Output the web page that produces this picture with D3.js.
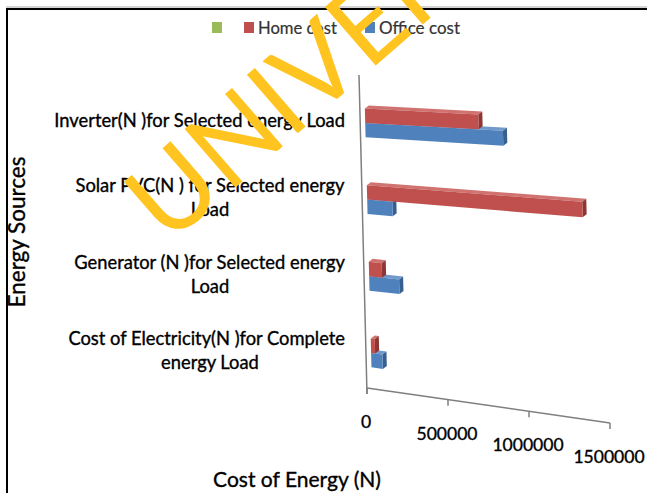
<!DOCTYPE html>
<html>
<head>
<meta charset="utf-8">
<script src="https://cdn.jsdelivr.net/npm/d3@7"></script>
<style>
  body { margin: 0; background: #fff; }
  svg { display: block; }
  text { font-family: Lato, "Open Sans", sans-serif; fill: #000; stroke: #000; stroke-width: 0.35px; }
</style>
</head>
<body>
<svg></svg>
<script>
const width = 647, height = 493;

// categories, top to bottom as drawn
const categories = ["Inverter", "Solar PVC", "Generator", "Electricity"];
const labelLines = [
    ["Inverter(N )for Selected energy Load"],
    ["Solar PVC(N ) for Selected energy", "Load"],
    ["Generator  (N )for Selected energy", "Load"],
    ["Cost of Electricity(N )for Complete", "energy Load"]
];
const seriesNames = ["", "Home cost", "Office cost"];
const seriesColors = ["#9BBB59", "#C0504D", "#4F81BD"];
const otherCost = [0, 0, 0, 0];
const homeCost = [700000, 1330000, 80000, 25000];
const officeCost = [850000, 155000, 185000, 70000];
const xTicks = [0, 500000, 1000000, 1500000];

const svg = d3.select("svg")
    .attr("width", width)
    .attr("height", height);

// shrink/grow a text so it spans the given width
function fit(sel, target) {
    const w = sel.node().getComputedTextLength();
    const fs = +sel.attr("font-size");
    sel.attr("font-size", fs * target / w);
    return sel;
}

// frame (top and left edges of the clipped figure)
svg.append("line").attr("x1", 6).attr("x2", width).attr("y1", 7).attr("y2", 7)
    .attr("stroke", "#aaa").attr("stroke-width", 1);
svg.append("line").attr("x1", 6).attr("x2", width).attr("y1", 9).attr("y2", 9)
    .attr("stroke", "#000").attr("stroke-width", 2);
svg.append("line").attr("x1", 7).attr("x2", 7).attr("y1", 8).attr("y2", height)
    .attr("stroke", "#000").attr("stroke-width", 2);

// scales: u along the value axis, v up the category axis
const xScale = d3.scaleLinear().domain([0, 1500000]).range([0, 1]);
const yScale = d3.scalePoint().domain(categories.slice().reverse()).range([0.112, 0.847]);

// corners of the tilted 3D plot plane
const BL = [367, 388], BR = [610, 423], TL = [359, 75], TR = [602, 85];
function proj(u, v) {
    const bx = BL[0] + (BR[0] - BL[0]) * u, by = BL[1] + (BR[1] - BL[1]) * u;
    const tx = TL[0] + (TR[0] - TL[0]) * u, ty = TL[1] + (TR[1] - TL[1]) * u;
    return [bx + (tx - bx) * v, by + (ty - by) * v];
}

// axes
const axisColor = "#7f7f7f";
svg.append("line")
    .attr("x1", TL[0]).attr("y1", TL[1]).attr("x2", BL[0]).attr("y2", BL[1] + 6)
    .attr("stroke", axisColor).attr("stroke-width", 1.5);
svg.append("line")
    .attr("x1", BL[0]).attr("y1", BL[1]).attr("x2", BR[0]).attr("y2", BR[1])
    .attr("stroke", axisColor).attr("stroke-width", 1.5);

const ticks = svg.append("g");
xTicks.forEach(t => {
    const [x, y] = proj(xScale(t), 0);
    ticks.append("line").attr("x1", x).attr("x2", x).attr("y1", y).attr("y2", y + 6)
        .attr("stroke", axisColor).attr("stroke-width", 1.5);
    const lbl = ticks.append("text").attr("x", x - 1).attr("y", y + 40)
        .attr("text-anchor", "middle").attr("font-size", 15)
        .text(d3.format("d")(t));
    if (t === 500000) fit(lbl, 61);
});
ticks.selectAll("text").attr("font-size", ticks.select("text:nth-of-type(2)").attr("font-size"));

// bars
const h = 0.046;
const off = [5, 0], depth = [4, -3];
const shift = (p, d) => [p[0] + d[0], p[1] + d[1]];
const pts = arr => arr.map(p => p.join(",")).join(" ");
const faceColors = {
    "#C0504D": { front: "#C0504D", top: "#D0726F", end: "#8F3532" },
    "#4F81BD": { front: "#4F81BD", top: "#7099CC", end: "#37608F" }
};

const barsG = svg.append("g");
categories.forEach((c, i) => {
    const vc = yScale(c);
    const series = [
        { value: officeCost[i], color: seriesColors[2], vb: vc - h, vt: vc },
        { value: homeCost[i], color: seriesColors[1], vb: vc, vt: vc + h }
    ];
    series.forEach(s => {
        if (!s.value) return;
        const u = xScale(s.value);
        const p00 = shift(proj(0, s.vb), off), p10 = shift(proj(u, s.vb), off);
        const p11 = shift(proj(u, s.vt), off), p01 = shift(proj(0, s.vt), off);
        const fc = faceColors[s.color];
        barsG.append("polygon").attr("points", pts([p01, p11, shift(p11, depth), shift(p01, depth)]))
            .attr("fill", fc.top);
        barsG.append("polygon").attr("points", pts([p10, p11, shift(p11, depth), shift(p10, depth)]))
            .attr("fill", fc.end);
        barsG.append("polygon").attr("points", pts([p00, p10, p11, p01]))
            .attr("fill", fc.front);
    });
});

// category labels: one size for all, fitted on the widest line
const labels = svg.append("g");
const probe = labels.append("text").attr("font-size", 16).text(labelLines[0][0]);
fit(probe, 291);
const labelSize = +probe.attr("font-size");
probe.remove();
categories.forEach((c, i) => {
    const [, y] = proj(0, yScale(c));
    const lines = labelLines[i];
    const lh = 24;
    const y0 = y - 2 - (lines.length - 1) * lh / 2;
    lines.forEach((ln, j) => {
        const t = labels.append("text").attr("x", 210).attr("y", y0 + j * lh)
            .attr("dy", "0.35em").attr("text-anchor", "middle")
            .attr("font-size", labelSize).text(ln);
        const w = t.node().getComputedTextLength();
        if (210 + w / 2 > 345) t.attr("x", 345 - w / 2);
    });
});

// axis titles
fit(svg.append("text").attr("x", 297).attr("y", 487).attr("text-anchor", "middle")
    .attr("font-size", 19).text("Cost of Energy (N)"), 168);
fit(svg.append("text").attr("transform", "translate(25,232) rotate(-90)")
    .attr("text-anchor", "middle").attr("font-size", 19).text("Energy Sources"), 151);

// legend
const legendX = [212, 244, 365];
const legend = svg.append("g");
seriesNames.forEach((n, i) => {
    legend.append("rect").attr("x", legendX[i]).attr("y", 22).attr("width", 10).attr("height", 11)
        .attr("fill", seriesColors[i]);
    const t = legend.append("text").attr("x", legendX[i] + 14).attr("y", 28).attr("dy", "0.35em")
        .attr("font-size", 16).style("fill", "#333").style("stroke", "#333").style("stroke-width", "0.2px")
        .text(n);
    if (n) fit(t, i === 1 ? 79 : 81);
});

// watermark
svg.append("text")
    .attr("transform", "translate(168,246) rotate(-41)")
    .attr("font-family", "'Liberation Sans', Arial, sans-serif")
    .attr("font-size", 108)
    .style("fill", "#FFC41F").style("stroke", "none")
    .text("UNIVERSITY");
</script>
</body>
</html>
